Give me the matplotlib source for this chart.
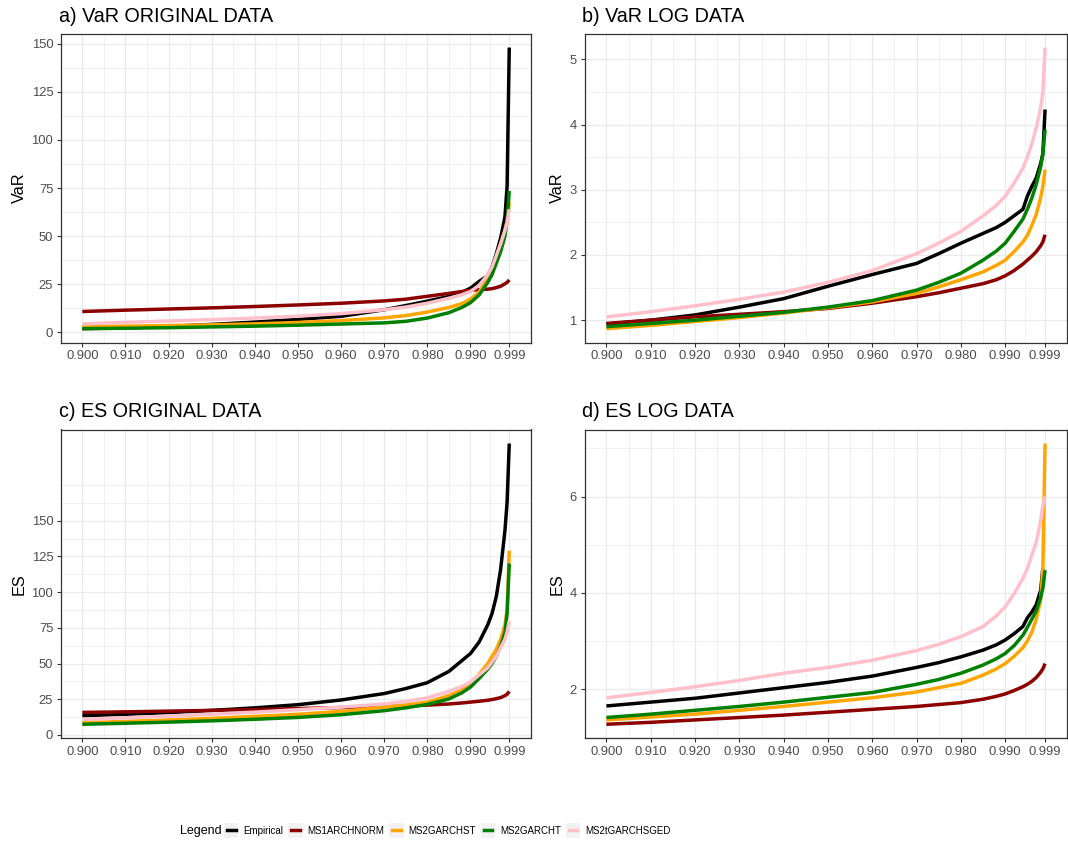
import numpy as np
import matplotlib
matplotlib.use("Agg")
import matplotlib.pyplot as plt
from matplotlib import font_manager
from matplotlib.legend_handler import HandlerBase
from matplotlib.patches import Rectangle
from matplotlib.lines import Line2D

plt.rcParams['font.family'] = ['Liberation Sans', 'DejaVu Sans']

# ======================
# DATA
# ======================

q = [0.900, 0.910, 0.920, 0.930, 0.940, 0.950, 0.960, 0.970, 0.975, 0.980,
     0.985, 0.988, 0.990, 0.992, 0.994, 0.995, 0.996, 0.997, 0.998, 0.9985, 0.999]

models = ["Empirical", "MS1ARCHNORM", "MS2GARCHST", "MS2GARCHT", "MS2tGARCHSGED"]
colors = ["black", "#8B0000", "#FFA500", "#008000", "#FFC0CB"]

# a) VaR original data
emp_a = [2.0, 2.4, 3.2, 4.2, 5.4, 6.8, 8.4, 11.8, 14.0, 16.3, 18.7, 20.8, 23.0, 26.5, 29.5, 34.0, 41.0, 49.0, 60.0, 76.0, 148.0]
red_a = [10.9, 11.6, 12.2, 12.8, 13.5, 14.3, 15.2, 16.4, 17.3, 18.8, 20.3, 21.3, 22.0, 22.2, 22.5, 22.8, 23.3, 24.0, 25.3, 26.0, 27.3]
orange_a = [3.0, 3.3, 3.6, 4.0, 4.5, 5.2, 6.2, 7.6, 8.8, 10.6, 13.0, 15.0, 17.3, 21.0, 28.0, 33.0, 39.0, 46.0, 53.0, 58.0, 67.5]
green_a = [2.0, 2.2, 2.5, 2.9, 3.3, 3.8, 4.4, 5.0, 5.8, 7.5, 10.3, 13.0, 15.5, 19.5, 26.0, 30.0, 36.0, 42.0, 50.0, 58.0, 73.5]
pink_a = [4.5, 5.3, 6.0, 6.7, 7.5, 8.5, 9.8, 11.8, 13.2, 15.2, 17.8, 19.6, 21.3, 24.5, 30.0, 34.0, 40.0, 46.0, 53.0, 57.0, 64.0]

# b) VaR log data
emp_b = [0.94, 1.00, 1.08, 1.20, 1.33, 1.52, 1.70, 1.87, 2.02, 2.18, 2.33, 2.42, 2.50, 2.60, 2.70, 2.90, 3.05, 3.18, 3.40, 3.55, 4.23]
red_b = [0.95, 1.00, 1.05, 1.09, 1.13, 1.18, 1.26, 1.36, 1.42, 1.49, 1.56, 1.62, 1.68, 1.76, 1.86, 1.92, 1.98, 2.05, 2.14, 2.20, 2.31]
orange_b = [0.87, 0.92, 0.98, 1.04, 1.11, 1.19, 1.28, 1.41, 1.51, 1.62, 1.74, 1.84, 1.92, 2.05, 2.20, 2.30, 2.45, 2.62, 2.88, 3.05, 3.31]
green_b = [0.90, 0.95, 1.00, 1.06, 1.12, 1.20, 1.30, 1.46, 1.58, 1.72, 1.92, 2.06, 2.18, 2.36, 2.55, 2.70, 2.87, 3.08, 3.35, 3.55, 3.92]
pink_b = [1.05, 1.13, 1.22, 1.32, 1.43, 1.58, 1.76, 2.02, 2.18, 2.36, 2.60, 2.76, 2.90, 3.10, 3.33, 3.50, 3.70, 3.95, 4.25, 4.50, 5.18]

# c) ES original data
emp_c = [13.5, 14.5, 15.7, 17.2, 19.0, 21.2, 24.5, 29.0, 32.5, 36.6, 44.5, 52.0, 57.0, 65.0, 77.0, 85.0, 97.0, 116.0, 143.0, 163.0, 204.0]
red_c = [15.8, 16.2, 16.7, 17.2, 17.8, 18.5, 19.2, 20.0, 20.4, 20.9, 21.7, 22.4, 23.0, 23.6, 24.3, 24.8, 25.4, 26.2, 27.5, 28.5, 30.5]
orange_c = [8.6, 9.5, 10.5, 11.6, 13.0, 14.5, 16.5, 19.5, 21.0, 23.0, 27.5, 31.5, 36.0, 42.5, 50.0, 55.0, 60.0, 67.0, 77.0, 88.0, 129.0]
green_c = [7.5, 8.2, 9.0, 9.9, 11.0, 12.3, 14.2, 17.0, 19.0, 21.4, 25.2, 29.5, 33.5, 39.5, 46.0, 50.0, 55.0, 62.0, 72.0, 85.0, 120.0]
pink_c = [10.9, 12.0, 13.2, 14.5, 16.0, 17.7, 19.5, 21.7, 23.5, 26.0, 30.5, 34.0, 37.0, 42.0, 47.0, 51.0, 55.0, 61.0, 67.0, 72.0, 79.7]

# d) ES log data (empirical stops one step earlier)
emp_d = [1.65, 1.73, 1.81, 1.92, 2.03, 2.14, 2.27, 2.45, 2.55, 2.67, 2.81, 2.92, 3.02, 3.15, 3.30, 3.48, 3.60, 3.75, 4.05, 4.51]
red_d = [1.27, 1.31, 1.36, 1.41, 1.46, 1.52, 1.58, 1.64, 1.68, 1.72, 1.79, 1.85, 1.90, 1.97, 2.05, 2.10, 2.16, 2.24, 2.35, 2.42, 2.53]
orange_d = [1.36, 1.42, 1.48, 1.56, 1.64, 1.73, 1.82, 1.94, 2.03, 2.12, 2.29, 2.42, 2.53, 2.68, 2.86, 3.00, 3.18, 3.45, 3.85, 4.50, 7.10]
green_d = [1.41, 1.48, 1.56, 1.64, 1.73, 1.83, 1.93, 2.10, 2.20, 2.33, 2.50, 2.63, 2.74, 2.90, 3.12, 3.28, 3.45, 3.62, 3.90, 4.10, 4.47]
pink_d = [1.82, 1.93, 2.05, 2.18, 2.33, 2.45, 2.60, 2.80, 2.93, 3.09, 3.30, 3.52, 3.71, 3.98, 4.30, 4.50, 4.78, 5.05, 5.50, 5.80, 6.00]

x_breaks = [0.90, 0.91, 0.92, 0.93, 0.94, 0.95, 0.96, 0.97, 0.98, 0.99, 0.999]

panels = [
    ("a) VaR ORIGINAL DATA", "VaR", [emp_a, red_a, orange_a, green_a, pink_a], [0, 25, 50, 75, 100, 125, 150]),
    ("b) VaR LOG DATA", "VaR", [emp_b, red_b, orange_b, green_b, pink_b], [1, 2, 3, 4, 5]),
    ("c) ES ORIGINAL DATA", "ES", [emp_c, red_c, orange_c, green_c, pink_c], [0, 25, 50, 75, 100, 125, 150]),
    ("d) ES LOG DATA", "ES", [emp_d, red_d, orange_d, green_d, pink_d], [2, 4, 6]),
]

# ======================
# LAYOUT (pixels)
# ======================

W, H = 1068, 841
boxes = [(61, 33.5, 530.6, 342.7), (584.5, 33.5, 1067, 342.7),
         (61, 429.5, 530.6, 738.3), (584.5, 429.5, 1067, 738.3)]
title_y = [21.7, 21.7, 417.0, 417.0]

fig = plt.figure(figsize=(W / 100, H / 100), dpi=100)


def minor_breaks(br):
    # same idea as ggplot's regular_minor_breaks
    d = br[1] - br[0]
    ext = [br[0] - d] + list(br) + [br[-1] + d]
    mids = [(ext[i] + ext[i + 1]) / 2 for i in range(len(ext) - 1)]
    return sorted(set(mids + [ext[0], ext[-1]]))


def expand(vals):
    lo, hi = min(vals), max(vals)
    r = hi - lo
    return lo - 0.05 * r, hi + 0.05 * r


handles = []
for k, (title, ylab, series, ybr) in enumerate(panels):
    l, t, r, b = boxes[k]
    ax = fig.add_axes([l / W, 1 - b / H, (r - l) / W, (b - t) / H])
    ax.set_axisbelow(True)
    for name, col, vals in zip(models, colors, series):
        ln, = ax.plot(q[:len(vals)], vals, color=col, lw=2.5, solid_capstyle='butt', label=name)
        if k == 0:
            handles.append(ln)

    ax.set_xticks(x_breaks)
    ax.set_xticklabels(["%.3f" % v for v in x_breaks])
    ax.set_xticks(minor_breaks(x_breaks), minor=True)
    ax.set_yticks(ybr)
    ax.set_yticklabels([str(v) for v in ybr])
    ax.set_yticks(minor_breaks(ybr), minor=True)

    ax.set_xlim(expand(q))
    allv = [v for s in series for v in s]
    ax.set_ylim(expand(allv))

    ax.grid(which='major', color='#EBEBEB', lw=1.0)
    ax.grid(which='minor', color='#EBEBEB', lw=0.5)
    ax.tick_params(which='major', direction='out', length=2.6, width=0.8, color='#333333',
                   labelsize=9.4, labelcolor='#4D4D4D', pad=3.0)
    ax.tick_params(which='minor', length=0)
    for sp in ax.spines.values():
        sp.set_color('#333333')
        sp.set_linewidth(0.9)

    fig.text((l - 2) / W, 1 - title_y[k] / H, title, fontsize=14.2, color='black',
             ha='left', va='baseline')
    fig.text((l - 41.5) / W if k % 2 == 0 else (l - 27) / W, 1 - (t + b) / 2 / H, ylab,
             fontsize=11.7, rotation=90, ha='center', va='center')

# ======================
# LEGEND
# ======================

try:
    font_manager.findfont('Liberation Sans Narrow', fallback_to_default=False)
    leg_family = ['Liberation Sans Narrow', 'Liberation Sans']
    leg_size = 8.2
except Exception:
    leg_family = ['Liberation Sans', 'DejaVu Sans']
    leg_size = 7.0


class GreyKey(HandlerBase):
    def create_artists(self, legend, orig_handle, xdescent, ydescent, width, height, fontsize, trans):
        yc = -ydescent + height / 2
        bg = Rectangle((-xdescent, yc - width / 2), width, width, facecolor='#F2F2F2',
                       edgecolor='none', transform=trans)
        ln = Line2D([-xdescent + width * 0.2, -xdescent + width * 0.8], [yc, yc],
                    color=orig_handle.get_color(), lw=2.5, transform=trans)
        return [bg, ln]


fig.text(180 / W, 1 - 830.7 / H, "Legend", fontsize=9.0, family=leg_family,
         ha='left', va='center')
leg = fig.legend(handles, models, loc='center left', bbox_to_anchor=(224 / W, 1 - 830.7 / H),
                 ncol=5, frameon=False, borderaxespad=0, borderpad=0,
                 handlelength=1.49, handleheight=1.0, handletextpad=0.5, columnspacing=0.5,
                 prop={'family': leg_family, 'size': leg_size},
                 handler_map={Line2D: GreyKey()})

fig.savefig("out.png", dpi=100)
